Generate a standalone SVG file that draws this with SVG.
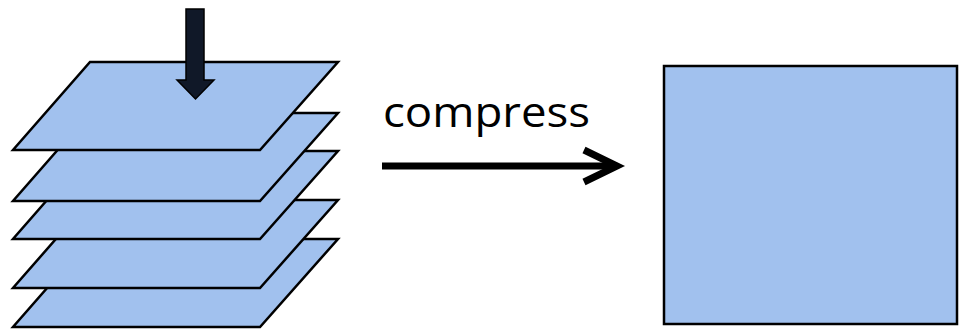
<svg xmlns="http://www.w3.org/2000/svg" width="959" height="329" viewBox="0 0 959 329">
<style>
.layer{fill:#A1C1EE;stroke:#000;stroke-width:2.5;stroke-linejoin:miter}
.lbl{font-family:"Open Sans","Liberation Sans",sans-serif;font-size:42px;fill:#000}
.conn{stroke:#000;stroke-width:7;fill:none}
</style>
<defs>
<polygon id="plane" points="90,0 338,0 260,88 13,88"/>
</defs>
<g id="stack">
<g id="layer5"><use href="#plane" class="layer" transform="translate(0,239)"/></g>
<g id="layer4"><use href="#plane" class="layer" transform="translate(0,200)"/></g>
<g id="layer3"><use href="#plane" class="layer" transform="translate(0,151)"/></g>
<g id="layer2"><use href="#plane" class="layer" transform="translate(0,113)"/></g>
<g id="layer1"><use href="#plane" class="layer" transform="translate(0,62)"/></g>
</g>
<g id="down-arrow">
<polygon points="186,9 204,9 204,80 214,80 195.5,99 177,80 186,80" fill="#101828" stroke="#000" stroke-width="1.5"/>
</g>
<g id="result">
<rect x="664" y="66" width="293" height="258" fill="#A1C1EE" stroke="#000" stroke-width="2.5"/>
</g>
<g id="connectors">
<line class="conn" x1="382" y1="166" x2="616" y2="166"/>
<polyline class="conn" points="584,150 617,166 584,182" stroke-linejoin="miter"/>
<text class="lbl" x="383" y="127" textLength="207" lengthAdjust="spacingAndGlyphs">compress</text>
</g>
</svg>
